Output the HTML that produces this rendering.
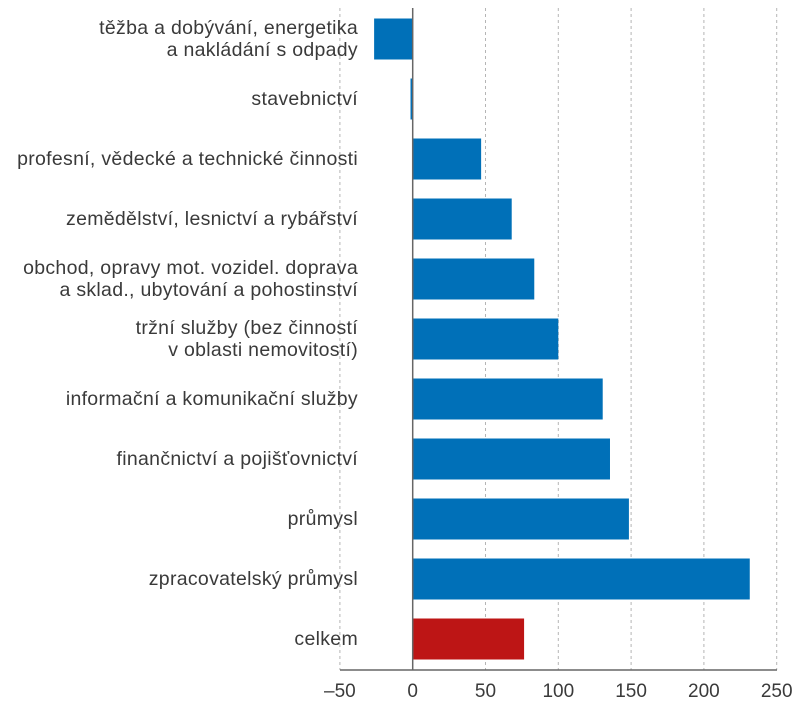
<!DOCTYPE html>
<html><head><meta charset="utf-8"><style>
body{margin:0;background:#fff;width:800px;height:704px;overflow:hidden}
svg text{font-family:"Liberation Sans",sans-serif;fill:#3a3a3a}
</style></head><body>
<svg id="c" width="800" height="704"></svg>
<script>
const categories=["těžba a dobývání, energetika|a nakládání s odpady","stavebnictví","profesní, vědecké a technické činnosti","zemědělství, lesnictví a rybářství","obchod, opravy mot. vozidel. doprava|a sklad., ubytování a pohostinství","tržní služby (bez činností|v oblasti nemovitostí)","informační a komunikační služby","finančnictví a pojišťovnictví","průmysl","zpracovatelský průmysl","celkem"];
const values=[-26.5,-1.5,47,68,83.5,100,130.5,135.5,148.5,231.5,76.5];
const ticks=[-50,0,50,100,150,200,250];
const tickLabels=["–50","0","50","100","150","200","250"];
const NS="http://www.w3.org/2000/svg",svg=document.getElementById('c');
const x=v=>412.7+v*1.456, rowY=i=>9+i*60, bh=41;
function mk(t,a){const e=document.createElementNS(NS,t);for(const k in a)e.setAttribute(k,a[k]);svg.appendChild(e);return e;}
ticks.forEach((t,i)=>{
 if(t!==0){const g=mk('line',{x1:x(t),x2:x(t),y1:8,y2:670,stroke:'#b5b5b5','stroke-dasharray':'3,3','stroke-width':1});
 
 }
 const tx=mk('text',{x:x(t),y:697,'text-anchor':'middle','font-size':19});
 tx.textContent=tickLabels[i];
 
 
});
values.forEach((v,i)=>{
 const y0=rowY(i)+9.5;
 const r=mk('rect',{x:Math.min(x(0),x(v)),y:y0,width:Math.abs(x(v)-x(0)),height:bh,fill:i===values.length-1?'#bd1515':'#0070b8'});
 
 
 const lines=categories[i].split('|');
 const cy=y0+bh/2;
 lines.forEach((l,j)=>{
  const t=mk('text',{x:358,y:cy+6+(j-(lines.length-1)/2)*22,'text-anchor':'end','font-size':19.5,'letter-spacing':'0.3'});
  t.textContent=l;
  
  
 });
});
const ax=mk('line',{x1:340,x2:777,y1:670,y2:670,stroke:'#666','stroke-width':1.5});


const z=mk('line',{x1:x(0),x2:x(0),y1:8,y2:670,stroke:'#666','stroke-width':1.5});


</script>
</body></html>
